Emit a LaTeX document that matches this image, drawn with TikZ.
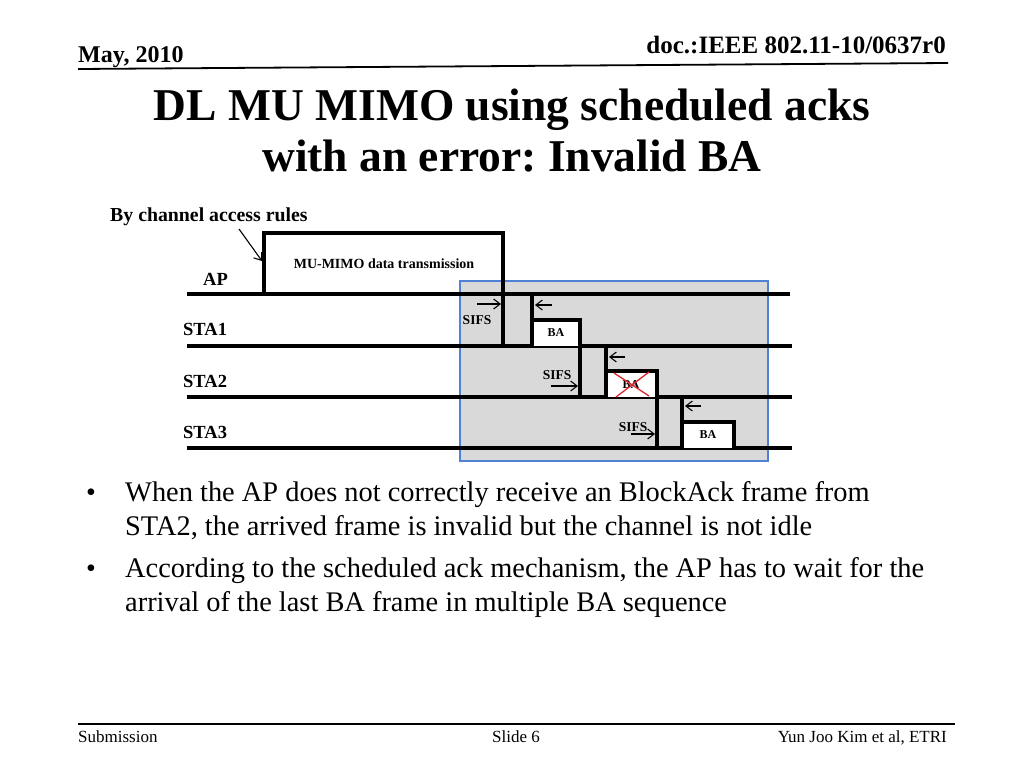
\documentclass[tikz,border=0pt]{standalone}
\usepackage{fontspec}
\setmainfont{Liberation Serif}
\usetikzlibrary{positioning,arrows.meta}
\definecolor{ShadeGray}{HTML}{D9D9D9}
\definecolor{FrameBlue}{HTML}{4F81D6}
\definecolor{CrossRed}{HTML}{E0242C}
\frenchspacing

\begin{document}
\begin{tikzpicture}[x=1pt,y=-1pt,
  txt/.style={inner sep=0pt,anchor=base west},
  stalbl/.style={txt,font=\fontsize{18.5}{20}\selectfont\bfseries},
  sifslbl/.style={inner sep=0pt,font=\fontsize{13.5}{15}\selectfont\bfseries},
  balbl/.style={inner sep=0pt,font=\fontsize{12}{14}\selectfont\bfseries},
  tline/.style={line width=3.4pt},
  tarrow/.style={-{Straight Barb[length=6.5pt,width=10pt]},line width=1.1pt},
  bullettxt/.style={txt,font=\fontsize{28.4}{34}\selectfont}]
  \useasboundingbox (0,0) rectangle (1024,768);
  \fill[white] (0,0) rectangle (1024,768);

  % header
  \node[txt,font=\fontsize{24}{28}\selectfont\bfseries] (date) at (78,63) {May, 2010};
  \node[inner sep=0pt,anchor=base east,font=\fontsize{25}{28}\selectfont\bfseries] (docnum) at (946,54) {doc.:IEEE 802.11-10/0637r0};
  \coordinate (hl) at (78,69);
  \coordinate (hr) at (948,63);
  \draw[line width=1.8pt] (hl) -- (hr);

  % title
  \node[inner sep=0pt,anchor=base,font=\fontsize{45.5}{52}\selectfont\bfseries] (title1) at (512,120) {DL MU MIMO using scheduled acks};
  \node[inner sep=0pt,anchor=base,font=\fontsize{45.5}{52}\selectfont\bfseries] (title2) at (512,171) {with an error: Invalid BA};

  % shaded frame
  \draw[fill=ShadeGray,draw=FrameBlue,line width=1.2pt] (460,281) rectangle (768,461);

  % time lines
  \coordinate (apL) at (187,294);   \coordinate (apR) at (790,294);
  \coordinate (s1L) at (187,346);   \coordinate (s1R) at (792,346);
  \coordinate (s2L) at (187,397);   \coordinate (s2R) at (792,397);
  \coordinate (s3L) at (187,448);   \coordinate (s3R) at (792,448);
  \draw[tline] (apL) -- (apR);
  \draw[tline] (s1L) -- (s1R);
  \draw[tline] (s2L) -- (s2R);
  \draw[tline] (s3L) -- (s3R);

  \node[stalbl] (ap) at (203,285) {AP};
  \node[stalbl] (sta1) at (183,335) {STA1};
  \node[stalbl] (sta2) at (183,387) {STA2};
  \node[stalbl] (sta3) at (183,438) {STA3};

  % MU-MIMO data
  \draw[tline,line join=miter] (264,294) -- (264,233) -- (503,233) -- (503,346);
  \node[inner sep=0pt,anchor=base,font=\fontsize{14}{16}\selectfont\bfseries] (data) at (384,268) {MU-MIMO data transmission};
  \node[txt,font=\fontsize{19.8}{22}\selectfont\bfseries] (rules) at (110,221) {By channel access rules};
  \coordinate (rulesTip) at (262,261);
  \coordinate (rulesTail) at (239,229);
  \draw[tarrow] (rulesTail) -- (rulesTip);

  % BA from STA1
  \fill[white] (532,320) rectangle (580,346);
  \draw[tline] (532,294) -- (532,346);
  \draw[tline,line join=miter] (532,320) -- (580,320) -- (580,397);
  \node[balbl] (ba1) at (556,333) {BA};
  \coordinate (sifs1a) at (477,304); \coordinate (sifs1b) at (501,304);
  \coordinate (sifs1c) at (552,305); \coordinate (sifs1d) at (535,305);
  \draw[tarrow] (sifs1a) -- (sifs1b);
  \draw[tarrow] (sifs1c) -- (sifs1d);
  \node[sifslbl] (sifs1) at (477,320) {SIFS};

  % BA from STA2 (invalid)
  \fill[white] (606,371) rectangle (657,397);
  \draw[tline] (606,346) -- (606,397);
  \draw[tline,line join=miter] (606,371) -- (657,371) -- (657,448);
  \node[balbl] (ba2) at (631,385) {BA};
  \draw[CrossRed,line width=1.3pt] (614,373) -- (649,396);
  \draw[CrossRed,line width=1.3pt] (616,397) -- (649,372);
  \coordinate (sifs2a) at (551,386); \coordinate (sifs2b) at (578,386);
  \coordinate (sifs2c) at (625,357); \coordinate (sifs2d) at (609,357);
  \draw[tarrow] (sifs2a) -- (sifs2b);
  \draw[tarrow] (sifs2c) -- (sifs2d);
  \node[sifslbl] (sifs2) at (557,375) {SIFS};

  % BA from STA3
  \fill[white] (682,422) rectangle (734,448);
  \draw[tline] (682,397) -- (682,448);
  \draw[tline,line join=miter] (682,422) -- (734,422) -- (734,448);
  \node[balbl] (ba3) at (708,435) {BA};
  \coordinate (sifs3a) at (631,434); \coordinate (sifs3b) at (655,434);
  \coordinate (sifs3c) at (701,406); \coordinate (sifs3d) at (685,406);
  \draw[tarrow] (sifs3a) -- (sifs3b);
  \draw[tarrow] (sifs3c) -- (sifs3d);
  \node[sifslbl] (sifs3) at (633,427) {SIFS};

  % bullets
  \node[txt,font=\fontsize{28}{34}\selectfont] (dot1) at (86,501) {\textbullet};
  \node[bullettxt] (l1) at (125,501) {When the AP does not correctly receive an BlockAck frame from};
  \node[bullettxt] (l2) at (125,535) {STA2, the arrived frame is invalid but the channel is not idle};
  \node[txt,font=\fontsize{28}{34}\selectfont] (dot2) at (86,577) {\textbullet};
  \node[bullettxt] (l3) at (125,577) {According to the scheduled ack mechanism, the AP has to wait for the};
  \node[bullettxt] (l4) at (125,611) {arrival of the last BA frame in multiple BA sequence};

  % footer
  \coordinate (fl) at (78,724);
  \coordinate (fr) at (955,724);
  \draw[line width=1.6pt] (fl) -- (fr);
  \node[txt,font=\fontsize{17}{20}\selectfont] (sub) at (78,742) {Submission};
  \node[inner sep=0pt,anchor=base,font=\fontsize{17}{20}\selectfont] (slide) at (516,742) {Slide 6};
  \node[inner sep=0pt,anchor=base east,font=\fontsize{17}{20}\selectfont] (auth) at (947,742) {Yun Joo Kim et al, ETRI};
\end{tikzpicture}
\end{document}
